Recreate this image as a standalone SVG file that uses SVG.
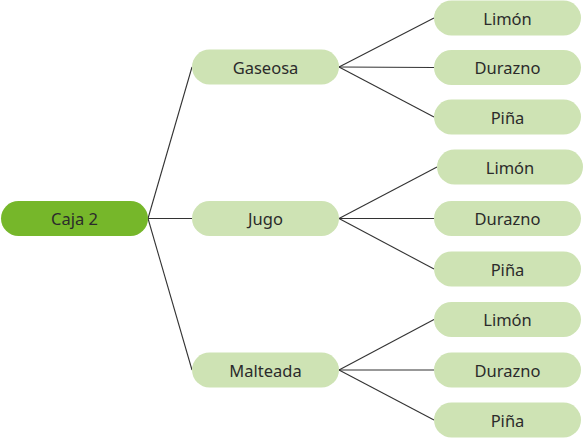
<svg xmlns="http://www.w3.org/2000/svg" width="587" height="441" viewBox="0 0 587 441">
<style>
.root rect{fill:#76b72a}
.n rect{fill:#cee3b4}
text{font-family:"Noto Sans","DejaVu Sans",sans-serif;font-size:16.5px;fill:#2b2b2b;text-anchor:middle;dominant-baseline:central}
#connectors line{stroke:#333;stroke-width:1.1}
</style>
<rect width="587" height="441" fill="#fff"/>
<g id="connectors">
<line x1="148" y1="218.5" x2="192" y2="67"/>
<line x1="148" y1="218.5" x2="192" y2="218.5"/>
<line x1="148" y1="218.5" x2="192" y2="370"/>
<line x1="339" y1="67" x2="434" y2="18"/>
<line x1="339" y1="67" x2="434" y2="67.5"/>
<line x1="339" y1="67" x2="434" y2="117"/>
<line x1="339" y1="218.5" x2="437" y2="167"/>
<line x1="339" y1="218.5" x2="434" y2="218.5"/>
<line x1="339" y1="218.5" x2="434" y2="269"/>
<line x1="339" y1="370" x2="434" y2="319.5"/>
<line x1="339" y1="370" x2="434" y2="370"/>
<line x1="339" y1="370" x2="434" y2="420"/>
</g>
<g id="caja2" class="root"><rect x="1" y="201" width="147" height="35" rx="17.5"/><text x="74.5" y="218.5">Caja 2</text></g>
<g id="gaseosa" class="n"><rect x="192" y="49.5" width="147" height="35" rx="17.5"/><text x="265.5" y="67">Gaseosa</text></g>
<g id="jugo" class="n"><rect x="192" y="201" width="147" height="35" rx="17.5"/><text x="265.5" y="218.5">Jugo</text></g>
<g id="malteada" class="n"><rect x="192" y="352.5" width="147" height="35" rx="17.5"/><text x="265.5" y="370">Malteada</text></g>
<g id="g-limon" class="n"><rect x="434" y="0.5" width="147" height="35" rx="17.5"/><text x="507.5" y="18">Limón</text></g>
<g id="g-durazno" class="n"><rect x="434" y="50" width="147" height="35" rx="17.5"/><text x="507.5" y="67.5">Durazno</text></g>
<g id="g-pina" class="n"><rect x="434" y="99.5" width="147" height="35" rx="17.5"/><text x="507.5" y="117">Piña</text></g>
<g id="j-limon" class="n"><rect x="437" y="149.5" width="146" height="35" rx="17.5"/><text x="510" y="167">Limón</text></g>
<g id="j-durazno" class="n"><rect x="434" y="201" width="147" height="35" rx="17.5"/><text x="507.5" y="218.5">Durazno</text></g>
<g id="j-pina" class="n"><rect x="434" y="251.5" width="147" height="35" rx="17.5"/><text x="507.5" y="269">Piña</text></g>
<g id="m-limon" class="n"><rect x="434" y="302" width="147" height="35" rx="17.5"/><text x="507.5" y="319.5">Limón</text></g>
<g id="m-durazno" class="n"><rect x="434" y="352.5" width="147" height="35" rx="17.5"/><text x="507.5" y="370">Durazno</text></g>
<g id="m-pina" class="n"><rect x="434" y="402.5" width="147" height="35" rx="17.5"/><text x="507.5" y="420">Piña</text></g>
</svg>
